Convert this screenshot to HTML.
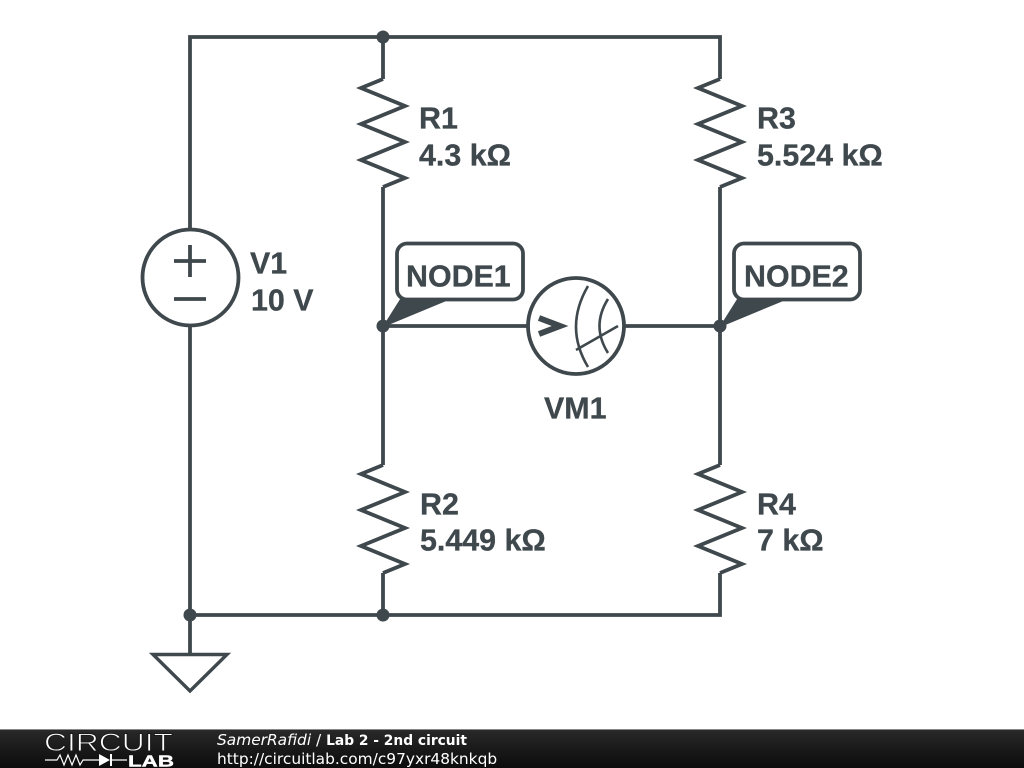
<!DOCTYPE html>
<html><head><meta charset="utf-8"><style>
html,body{margin:0;padding:0;background:#fff;width:1024px;height:768px;overflow:hidden}
svg{display:block}
.l{font-family:"Liberation Sans",sans-serif;font-weight:700;font-size:30.4px;fill:#3f484d;stroke:#3f484d;stroke-width:0.3}
.f{font-family:"DejaVu Sans",sans-serif;font-size:15.4px;fill:#fff}
</style></head><body>
<svg width="1024" height="768" viewBox="0 0 1024 768" xmlns="http://www.w3.org/2000/svg">
<defs><linearGradient id="g" x1="0" y1="0" x2="0" y2="1"><stop offset="0" stop-color="#2a2a2a"/><stop offset="0.5" stop-color="#1a1a1a"/><stop offset="1" stop-color="#0c0c0c"/></linearGradient></defs>
<g fill="none" stroke="#3f484d" stroke-width="3.8" stroke-linejoin="miter">
<path d="M190 229V37H720V79M383 37V79M190 326V615H720V573M383 615V573M190 615V654"/>
<path d="M383 187V465M720 187V465"/>
<path d="M383 326H528M624 326H720"/>
<path d="M383 79L361 88L405 106L361 124L405 142L361 160L405 178L383 187"/>
<path d="M720 79L698 88L742 106L698 124L742 142L698 160L742 178L720 187"/>
<path d="M383 465L361 474L405 492L361 510L405 528L361 546L405 564L383 573"/>
<path d="M720 465L698 474L742 492L698 510L742 528L698 546L742 564L720 573"/>
<circle cx="190.5" cy="277.5" r="48"/>
<path d="M174 261H206M190 245V277M174 299H206"/>
<circle cx="576" cy="326" r="48"/>
<path d="M153 654.500H227L190 691Z" stroke-width="3.400"/>
<path d="M539 318L560 326L539 334" stroke-width="6"/>
<path d="M588 286Q564 327 588 367M608 299Q591 326 608 353M576 350L618 326" stroke-width="2.600"/>
<rect x="397" y="243.500" width="126" height="56" rx="10"/>
<rect x="734" y="243.500" width="126" height="56" rx="10"/>
</g>
<g fill="#3f484d" stroke="#3f484d" stroke-width="0">
<circle cx="383" cy="37" r="6.500"/><circle cx="190" cy="615" r="6.500"/><circle cx="383" cy="615" r="6.500"/>
<circle cx="383" cy="326" r="6.500"/><circle cx="720" cy="326" r="6.500"/>
<path d="M401 299H449L384 326Z" stroke-width="1.500"/><path d="M738 299H786L721 326Z" stroke-width="1.500"/>
</g>
<text class="l" x="419" y="128.500">R1</text><text class="l" x="419" y="165.500">4.3 kΩ</text>
<text class="l" x="757" y="128.500">R3</text><text class="l" x="757" y="165.500">5.524 kΩ</text>
<text class="l" x="420" y="514.500">R2</text><text class="l" x="420" y="550.500">5.449 kΩ</text>
<text class="l" x="757" y="514.500">R4</text><text class="l" x="757" y="550.500">7 kΩ</text>
<text class="l" x="250" y="273.500">V1</text><text class="l" x="251" y="310.500">10 V</text>
<text class="l" x="544" y="418.500">VM1</text>
<text class="l" x="406" y="286.500">NODE1</text><text class="l" x="744" y="286.500">NODE2</text>
<rect x="0" y="729" width="1024" height="39" fill="url(#g)"/>
<rect x="0" y="729" width="1024" height="1" fill="#888"/>
<text x="44" y="751" font-family="Liberation Sans,sans-serif" font-size="25" fill="#fff" stroke="#1a1a1a" stroke-width="0.9" textLength="129" lengthAdjust="spacingAndGlyphs">CIRCUIT</text>
<path d="M45 760H57L60 755L64 765L68 755L72 765L76 755L80 765L83 760H99M112 760H127" fill="none" stroke="#fff" stroke-width="1.200"/>
<path d="M99 754L110 760L99 766Z" fill="#fff"/><rect x="110" y="754" width="2" height="12" fill="#fff"/>
<text x="128" y="766.500" font-family="Liberation Sans,sans-serif" font-size="16" font-weight="700" fill="#fff" stroke="#fff" stroke-width="0.4" textLength="46" lengthAdjust="spacingAndGlyphs">LAB</text>
<text class="f" x="217" y="745"><tspan font-style="italic">SamerRafidi</tspan> / <tspan font-weight="700" font-size="13.8">Lab 2 - 2nd circuit</tspan></text>
<text class="f" x="217" y="764">http://circuitlab.com/c97yxr48knkqb</text>
</svg>
</body></html>
